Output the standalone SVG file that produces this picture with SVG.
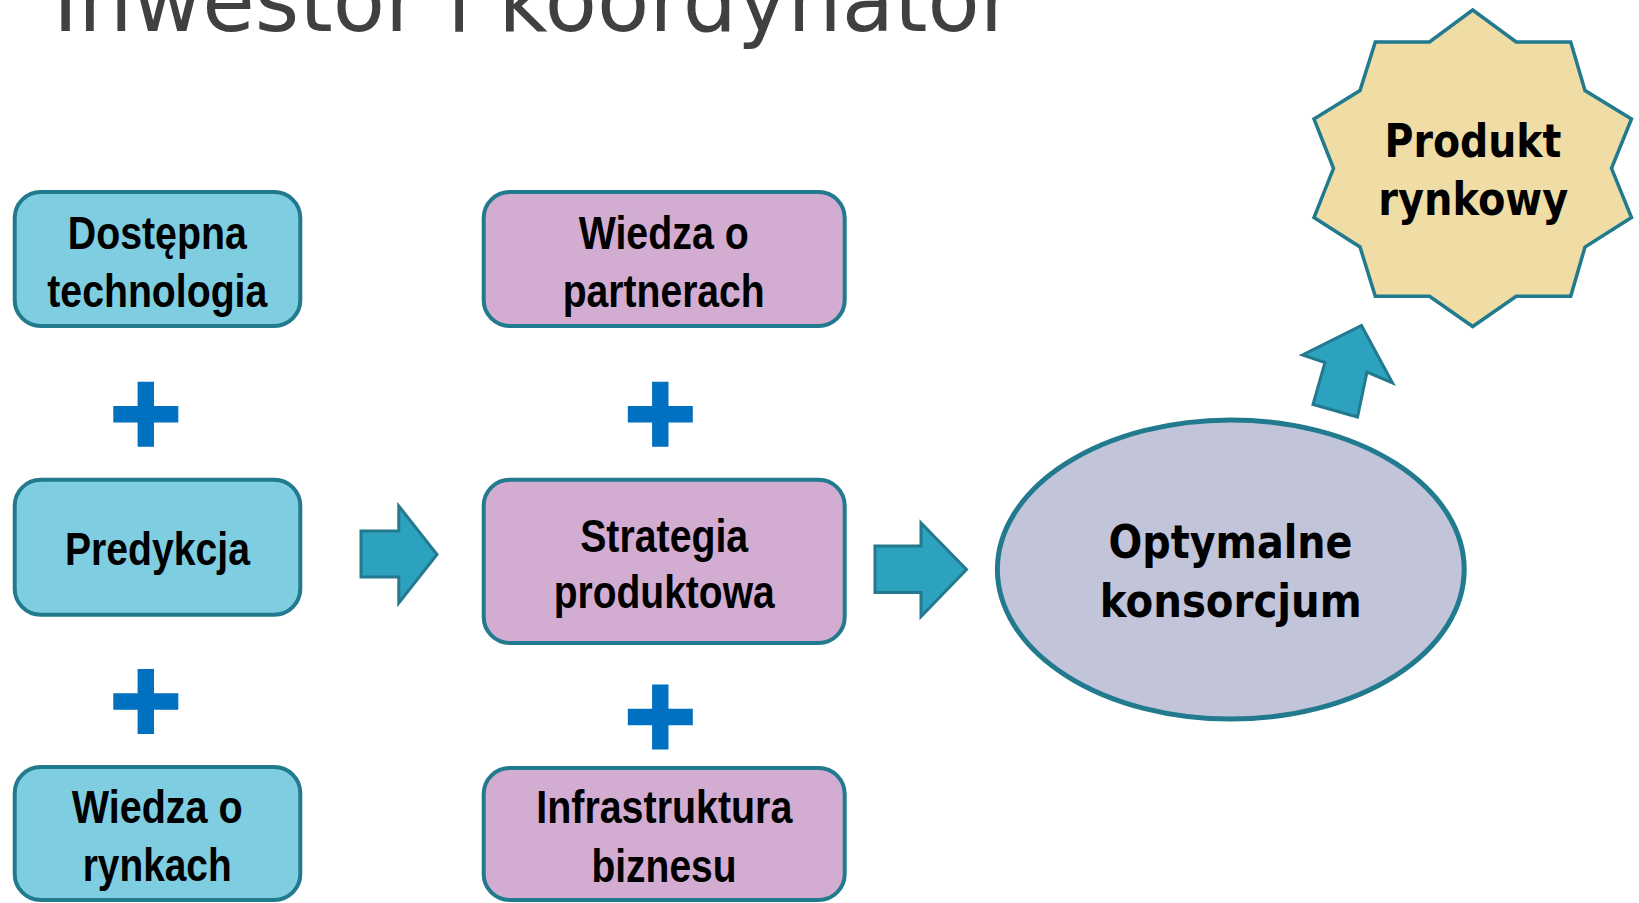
<svg xmlns="http://www.w3.org/2000/svg" xmlns:xlink="http://www.w3.org/1999/xlink" width="1639" height="903" viewBox="0 0 1639 903">
<style>
.title{font-family:"DejaVu Sans","Liberation Sans",sans-serif;font-size:88px;fill:#404040}
.bx{font-family:"Liberation Sans Narrow","Liberation Sans",Arial,sans-serif;font-weight:bold;font-size:46px;fill:#000;text-anchor:middle}
.hm{font-family:"DejaVu Sans","Liberation Sans",sans-serif;font-weight:bold;font-size:46px;fill:#000;text-anchor:middle}
.blue{fill:#7ECDE1;stroke:#217A8D;stroke-width:4}
.pink{fill:#D3ADD1;stroke:#217A8D;stroke-width:4}
.arr{fill:#2CA2BF;stroke:#23798D;stroke-width:3;stroke-linejoin:miter}
.plus{fill:#0070C0}
</style>
<defs>
<path id="plus" class="plus" d="M-8.2,-32.5h16.4v24.3h24.3v16.4h-24.3v24.3h-16.4v-24.3h-24.3v-16.4h24.3z"/>
</defs>
<text class="title" x="53" y="31" textLength="962" lengthAdjust="spacingAndGlyphs">Inwestor i koordynator</text>

<g id="connectors">
<polygon class="arr" points="361,531 398.8,531 398.8,506 437,554.5 398.8,603 398.8,577 361,577"/>
<polygon class="arr" points="875,546 921,546 921,523 966.5,569.5 921,616.5 921,592.6 875,592.6"/>
<polygon class="arr" points="1361.5,325.5 1392.5,383 1367,372 1357.5,417 1313,404.5 1325,362.5 1302.5,355"/>
<use href="#plus" x="145.8" y="414.2"/>
<use href="#plus" x="145.8" y="701.5"/>
<use href="#plus" x="660.3" y="414.2"/>
<use href="#plus" x="660.3" y="717"/>
</g>

<g id="dostepna">
<rect class="blue" x="14.7" y="192" width="285.6" height="134" rx="26"/>
<text class="bx" x="157.3" y="249" textLength="179" lengthAdjust="spacingAndGlyphs">Dostępna</text>
<text class="bx" x="157.3" y="306.7" textLength="220" lengthAdjust="spacingAndGlyphs">technologia</text>
</g>
<g id="predykcja">
<rect class="blue" x="14.7" y="479.7" width="285.6" height="135" rx="26"/>
<text class="bx" x="157.5" y="565" textLength="185" lengthAdjust="spacingAndGlyphs">Predykcja</text>
</g>
<g id="wiedza-rynki">
<rect class="blue" x="14.7" y="767" width="285.6" height="133" rx="26"/>
<text class="bx" x="157.2" y="823.3" textLength="171" lengthAdjust="spacingAndGlyphs">Wiedza o</text>
<text class="bx" x="157.2" y="880.7" textLength="149" lengthAdjust="spacingAndGlyphs">rynkach</text>
</g>
<g id="wiedza-partnerzy">
<rect class="pink" x="483.7" y="192" width="361" height="134" rx="26"/>
<text class="bx" x="663.7" y="249" textLength="170" lengthAdjust="spacingAndGlyphs">Wiedza o</text>
<text class="bx" x="663.7" y="306.7" textLength="202" lengthAdjust="spacingAndGlyphs">partnerach</text>
</g>
<g id="strategia">
<rect class="pink" x="483.7" y="479.7" width="361" height="163.3" rx="26"/>
<text class="bx" x="664.2" y="551.7" textLength="168" lengthAdjust="spacingAndGlyphs">Strategia</text>
<text class="bx" x="664.2" y="608.3" textLength="221" lengthAdjust="spacingAndGlyphs">produktowa</text>
</g>
<g id="infrastruktura">
<rect class="pink" x="483.7" y="768" width="361" height="132" rx="26"/>
<text class="bx" x="664.3" y="823.3" textLength="256" lengthAdjust="spacingAndGlyphs">Infrastruktura</text>
<text class="bx" x="664" y="881.7" textLength="145" lengthAdjust="spacingAndGlyphs">biznesu</text>
</g>
<g id="konsorcjum">
<ellipse cx="1230.8" cy="569.5" rx="233.4" ry="149.6" fill="#C2C5DA" stroke="#217A8D" stroke-width="5"/>
<text class="hm" x="1230.5" y="558.3" textLength="244" lengthAdjust="spacingAndGlyphs">Optymalne</text>
<text class="hm" x="1230.8" y="616.7" textLength="262" lengthAdjust="spacingAndGlyphs">konsorcjum</text>
</g>
<g id="produkt">
<polygon fill="#F0DCA5" stroke="#217A8D" stroke-width="3.5" stroke-linejoin="miter" points="1472.7,10 1516.2,42 1570.7,42 1585,90.5 1631.5,119 1611.5,168.3 1631.5,217.5 1585,247 1570.7,296.2 1516.2,296.2 1472.7,326.5 1429.5,296.2 1375.3,296.2 1360,247 1314,217.5 1333.5,168.3 1314,119 1360,90.5 1375.3,42 1429.5,42"/>
<text class="hm" x="1473" y="156.7" font-size="44" textLength="177" lengthAdjust="spacingAndGlyphs">Produkt</text>
<text class="hm" x="1473.3" y="215" font-size="44" textLength="190" lengthAdjust="spacingAndGlyphs">rynkowy</text>
</g>
</svg>
